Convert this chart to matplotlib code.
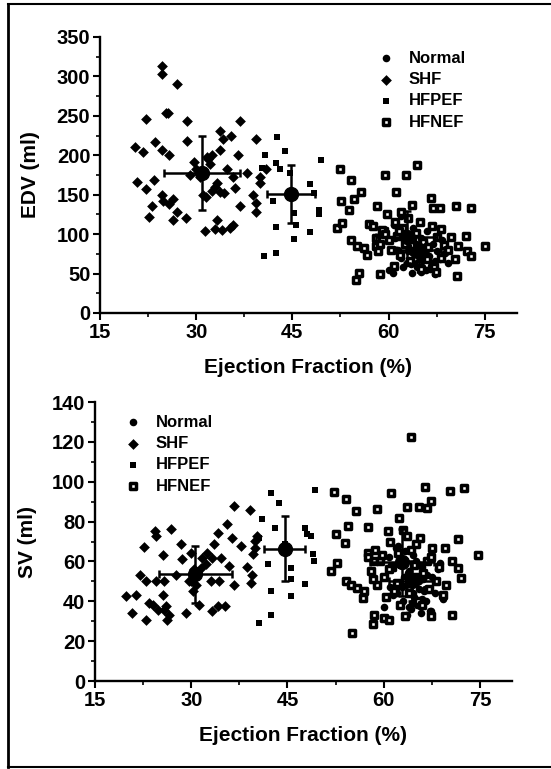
import matplotlib
matplotlib.use('Agg')
import matplotlib.pyplot as plt
from matplotlib.lines import Line2D
from matplotlib.ticker import MultipleLocator

plt.rcParams['font.family'] = ['Liberation Sans', 'DejaVu Sans']
plt.rcParams['font.weight'] = 'bold'

# ---------------- data: top panel (EDV) ----------------
shf_ef_top = [24.7, 24.7, 27.0, 22.2, 25.3, 25.6, 28.5, 36.9, 20.5, 21.7, 23.5, 24.6, 25.8, 28.5,
              33.7, 34.2, 35.5, 33.7, 36.5, 39.3, 20.8, 22.2, 23.4, 23.1, 22.7, 24.6, 24.9, 25.7,
              26.4, 26.4, 27.0, 28.4, 29.6, 30.6, 31.1, 31.3, 31.7, 32.2, 31.9, 33.2, 33.7, 34.4,
              33.2, 32.9, 34.1, 35.2, 35.7, 34.8, 35.8, 36.1, 36.8, 37.9, 38.8, 39.4, 39.3, 39.9,
              40.0, 40.9, 30.0, 32.5, 33.0, 31.5, 29.0, 32.4]
shf_edv = [313, 303, 290, 246, 253, 253, 244, 243, 211, 204, 217, 206, 200, 218,
           231, 221, 224, 206, 200, 221, 166, 157, 168, 136, 122, 150, 142, 138,
           145, 118, 128, 120, 192, 173, 150, 104, 198, 189, 195, 165, 154, 152,
           118, 106, 105, 108, 112, 183, 173, 159, 135, 178, 150, 139, 128, 165,
           173, 183, 182, 200, 160, 147, 175, 155]

hfpef_ef_top = [40.8, 42.6, 43.8, 42.4, 43.1, 40.3, 42.0, 42.4, 40.5, 42.5, 45.3, 45.6, 45.3,
                47.8, 47.8, 48.3, 49.2, 49.2, 49.5, 44.7]
hfpef_edv = [200, 223, 205, 190, 182, 184, 142, 109, 72, 76, 127, 112, 94,
             103, 163, 152, 131, 125, 194, 177]

hfnef_ef_top = [52.4, 54.1, 55.7, 54.6, 52.6, 53.8, 52.0, 52.8, 54.2, 55.1, 56.1, 56.7, 58.0,
                55.4, 54.9, 58.6, 59.4, 62.7, 64.5, 61.2, 58.2, 56.9, 59.3, 63.7, 66.6, 66.9,
                68.0, 70.5, 72.8, 72.0, 69.8, 70.8, 72.3, 72.8, 75.0, 70.6, 70.3, 68.1,
                57.5, 58.0, 58.6, 59.0, 59.5, 60.0, 60.4, 61.0, 61.3, 61.8, 62.2, 62.6, 63.0,
                63.4, 63.9, 64.3, 64.8, 65.3, 65.7, 66.2, 66.7, 67.1, 67.6, 68.2, 68.6, 69.2,
                59.8, 60.9, 62.0, 63.6, 64.9, 66.0, 67.4, 58.3, 61.6, 65.0]
hfnef_edv = [183, 168, 153, 144, 142, 130, 108, 114, 93, 85, 82, 74, 85,
             51, 42, 49, 175, 175, 188, 154, 135, 113, 104, 137, 146, 133,
             133, 135, 133, 98, 96, 85, 78, 72, 85, 47, 68, 106,
             110, 95, 88, 105, 100, 92, 80, 115, 98, 74, 108, 88, 120,
             66, 78, 102, 62, 90, 72, 84, 110, 58, 96, 70, 86, 80,
             125, 60, 128, 94, 115, 68, 52, 78, 104, 56]

normal_ef_top = [60.1, 60.7, 60.8, 61.9, 63.7, 65.5, 63.1, 62.0, 62.5, 63.0, 63.5, 64.0, 64.2,
                 64.5, 64.8, 65.0, 65.2, 65.5, 65.8, 66.0, 66.3, 66.6, 67.0, 67.3, 67.6, 68.0,
                 68.4, 62.8, 63.3, 64.4, 65.1, 65.9, 66.8, 61.5, 62.2, 64.0, 65.6, 66.4, 67.2,
                 63.8, 64.6, 66.1, 68.8, 69.3, 61.0]
normal_edv = [55, 51, 112, 123, 51, 68, 85, 70, 92, 78, 62, 100, 88,
              58, 75, 95, 66, 82, 54, 104, 72, 60, 88, 50, 78, 68,
              92, 64, 98, 84, 52, 70, 62, 80, 58, 75, 90, 56, 66,
              108, 72, 84, 76, 64, 95]

# group means and SD (Normal, SHF, HFPEF, HFNEF)
mean_ef_top = [64.7, 30.9, 44.8, 62.8]
sd_ef_top = [3.5, 5.9, 3.8, 4.7]
mean_edv = [80, 177, 151, 96]
sd_edv = [18, 47, 37, 33]

# ---------------- data: bottom panel (SV) ----------------
shf_ef_bot = [19.9, 21.4, 20.7, 22.7, 22.0, 23.0, 23.4, 23.0, 24.4, 24.5, 26.8, 25.6, 25.6,
              24.5, 24.0, 24.8, 25.7, 26.1, 26.6, 26.3, 25.7, 28.4, 28.5, 29.2, 29.9, 29.7,
              30.2, 31.2, 30.4, 31.5, 31.7, 32.5, 33.3, 32.3, 33.5, 34.1, 34.7, 33.3, 34.1,
              35.3, 33.1, 34.3, 35.9, 35.5, 36.4, 36.6, 36.6, 37.8, 39.2, 38.7, 39.5, 39.3,
              39.7, 40.0, 40.2, 40.0, 27.6, 29.9, 30.8]
shf_sv = [42.5, 43.4, 34.1, 67.2, 53.4, 50.1, 39.2, 30.8, 75.3, 72.8, 76.1, 63.2, 43.4,
          50.1, 38.3, 35.8, 35.8, 37.5, 33.3, 30.8, 50.1, 68.6, 61.3, 34.1, 64.4, 50.1,
          45.0, 38.3, 56.0, 56.8, 61.8, 64.4, 61.8, 58.5, 68.6, 74.5, 61.8, 35.0, 37.5,
          37.5, 50.1, 50.1, 57.6, 78.7, 71.9, 87.9, 48.4, 67.7, 85.7, 57.1, 53.4, 49.2,
          63.5, 66.9, 72.8, 70.2, 53.4, 50.0, 48.4]

hfpef_ef_bot = [42.5, 43.7, 41.0, 43.1, 42.0, 42.4, 42.4, 40.5, 45.5, 45.6, 45.6, 47.8, 47.8,
                48.1, 48.7, 49.0, 49.1, 49.3, 44.6, 40.5]
hfpef_sv = [94.6, 89.2, 81.2, 77.0, 58.5, 45.4, 33.0, 28.9, 42.5, 56.5, 51.0, 48.9, 77.0,
            73.6, 72.8, 63.5, 60.2, 95.8, 68.6, 72.0]

hfnef_ef_bot = [52.3, 54.1, 55.7, 52.6, 53.9, 52.7, 51.8, 54.4, 54.1, 54.9, 55.9, 56.7, 57.0,
                55.0, 59.0, 57.6, 57.5, 58.5, 58.5, 58.4, 61.1, 62.4, 64.2, 65.5, 66.4, 67.3,
                66.8, 70.4, 72.5, 71.6, 71.6, 72.1, 70.6, 74.7, 69.7, 69.6, 70.6, 63.6, 60.6,
                60.0, 60.8, 63.4, 67.3,
                57.5, 58.0, 58.6, 59.0, 59.5, 60.0, 60.4, 61.0, 61.3, 61.8, 62.2, 62.6, 63.0,
                63.4, 63.9, 64.3, 64.8, 65.3, 65.7, 66.2, 66.7, 67.1, 67.6, 68.2, 68.6, 69.2,
                59.8, 60.9, 62.0, 63.6, 64.9, 66.0, 67.4, 58.3, 61.6, 65.0]
hfnef_sv = [95.1, 91.3, 85.4, 73.9, 69.4, 59.3, 55.1, 77.8, 50.1, 48.4, 46.7, 41.7, 45.0,
            24.0, 86.2, 77.3, 64.4, 60.2, 33.3, 28.6, 94.6, 82.0, 122.4, 87.4, 97.5, 90.4,
            86.7, 95.5, 96.8, 71.1, 56.8, 51.8, 33.3, 63.2, 48.4, 66.6, 60.2, 87.1, 75.3,
            31.6, 30.8, 32.4, 32.4,
            62, 55, 66, 48, 60, 52, 42, 70, 57, 46, 64, 38, 76,
            50, 44, 66, 58, 40, 72, 54, 60, 46, 67, 50, 57, 43,
            63, 56, 49, 73, 52, 38, 62, 51, 45, 69]

normal_ef_bot = [60.1, 60.7, 60.8, 61.9, 63.7, 65.5, 63.1, 62.0, 62.5, 63.0, 63.5, 64.0, 64.2,
                 64.5, 64.8, 65.0, 65.2, 65.5, 65.8, 66.0, 66.3, 66.6, 67.0, 67.3, 67.6, 68.0,
                 68.4, 62.8, 63.3, 64.4, 65.1, 65.9, 66.8, 61.5, 62.2, 64.0, 65.6, 66.4, 67.2,
                 63.8, 64.6, 66.1, 68.8, 69.3, 61.0]
normal_sv = [37, 31, 62, 67, 33, 46, 52, 44, 58, 40, 48, 55, 36,
             63, 42, 60, 38, 50, 34, 57, 45, 40, 61, 35, 52, 44,
             56, 47, 65, 39, 49, 41, 53, 43, 68, 37, 58, 46, 35,
             54, 44, 51, 59, 41, 47]

mean_ef_bot = [64.4, 30.6, 44.6, 62.9]
sd_ef_bot = [3.5, 5.7, 3.2, 5.0]
mean_sv = [50, 53.5, 66.5, 59.5]
sd_sv = [10, 14.5, 16.5, 17]

labels = ['Normal', 'SHF', 'HFPEF', 'HFNEF']


def draw_panel(ax, groups, means, ylim, ymajor, yminor, ylabel):
    normal, shf, hfpef, hfnef = groups
    h1 = ax.scatter(normal[0], normal[1], s=30, marker='o', color='black', lw=0, zorder=3)
    h2 = ax.scatter(shf[0], shf[1], s=30, marker='D', color='black', lw=0, zorder=3)
    h3 = ax.scatter(hfpef[0], hfpef[1], s=24, marker='s', color='black', lw=0, zorder=3)
    h4 = ax.scatter(hfnef[0], hfnef[1], s=18, marker='s', facecolor='white',
                    edgecolor='black', lw=2.5, zorder=3)
    mx, sx, my, sy = means
    ax.errorbar(mx, my, xerr=sx, yerr=sy, fmt='o', color='black', ms=10,
                elinewidth=1.8, capsize=3, capthick=1.8, zorder=4)
    ax.set_xlim(15, 80)
    ax.set_ylim(*ylim)
    ax.xaxis.set_major_locator(MultipleLocator(15))
    ax.xaxis.set_minor_locator(MultipleLocator(7.5))
    ax.yaxis.set_major_locator(MultipleLocator(ymajor))
    ax.yaxis.set_minor_locator(MultipleLocator(yminor))
    for s in ['top', 'right']:
        ax.spines[s].set_visible(False)
    for s in ['left', 'bottom']:
        ax.spines[s].set_linewidth(1.7)
    ax.tick_params(which='major', direction='out', length=5, width=1.5, labelsize=14.5, pad=2)
    ax.tick_params(which='minor', direction='out', length=3, width=1.2)
    ax.set_xlabel('Ejection Fraction (%)', fontsize=15, fontweight='bold', labelpad=12)
    ax.set_ylabel(ylabel, fontsize=15, fontweight='bold')
    return [h1, h2, h3, h4]


fig = plt.figure(figsize=(5.51, 7.69), dpi=100)

ax1 = fig.add_axes([0.1815, 0.593, 0.7565, 0.359])
hs = draw_panel(ax1,
                [(normal_ef_top, normal_edv), (shf_ef_top, shf_edv),
                 (hfpef_ef_top, hfpef_edv), (hfnef_ef_top, hfnef_edv)],
                (mean_ef_top, sd_ef_top, mean_edv, sd_edv), (0, 350), 50, 25, 'EDV (ml)')
ax1.yaxis.set_label_coords(-0.145, 0.5)
ax1.legend(hs, labels, loc='upper left', bbox_to_anchor=(0.625, 0.98), frameon=False,
           fontsize=12, handletextpad=0.4, labelspacing=0.38, borderpad=0, markerscale=1.0)

ax2 = fig.add_axes([0.1724, 0.1144, 0.7568, 0.3628])
hs = draw_panel(ax2,
                [(normal_ef_bot, normal_sv), (shf_ef_bot, shf_sv),
                 (hfpef_ef_bot, hfpef_sv), (hfnef_ef_bot, hfnef_sv)],
                (mean_ef_bot, sd_ef_bot, mean_sv, sd_sv), (0, 140), 20, 10, 'SV (ml)')
ax2.yaxis.set_label_coords(-0.14, 0.5)
ax2.legend(hs, labels, loc='upper left', bbox_to_anchor=(0.03, 0.985), frameon=False,
           fontsize=12, handletextpad=0.4, labelspacing=0.38, borderpad=0, markerscale=1.0)

# scanned page border
fig.add_artist(Line2D([0.015, 0.015], [0.003, 0.995], color='black', lw=2))
fig.add_artist(Line2D([0.015, 1.0], [0.995, 0.995], color='black', lw=1.5))
fig.add_artist(Line2D([0.015, 1.0], [0.003, 0.003], color='black', lw=1.5))

fig.savefig('out.png', dpi=100)
